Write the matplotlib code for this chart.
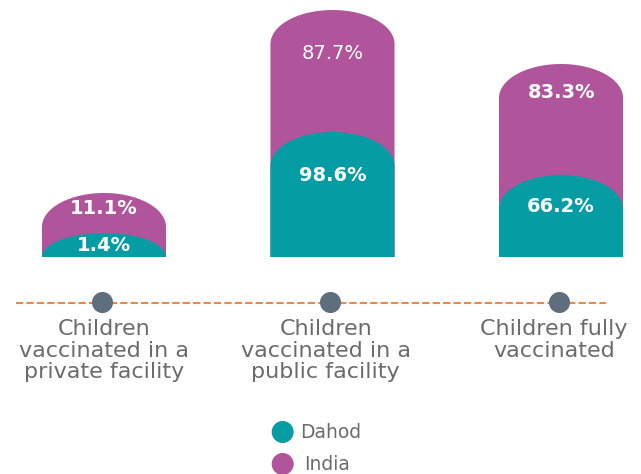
import matplotlib
matplotlib.use("Agg")
import matplotlib.pyplot as plt
from matplotlib.path import Path
from matplotlib.patches import PathPatch
import numpy as np

# ---- data ----
categories = ["Children\nvaccinated in a\nprivate facility",
              "Children\nvaccinated in a\npublic facility",
              "Children fully\nvaccinated"]
series_names = ["Dahod", "India"]
dahod_values = [1.4, 98.6, 66.2]
india_values = [11.1, 87.7, 83.3]
# drawn (infographic, not to scale) bar heights
dahod_heights = [24, 125, 82]
india_heights = [64, 247, 193]

# ---- styles ----
TEAL = "#069ca3"
PURPLE = "#b0559b"
GREY_TXT = "#6b6b6b"
DOT = "#5f6e7c"
ORANGE = "#e8894a"

fig = plt.figure(figsize=(6.41, 4.74), dpi=100)
ax = fig.add_axes([0, 0, 1, 1])
ax.set_xlim(-0.455, 2.350)
ax.set_ylim(-217, 257)
ax.axis("off")

bar_w = 0.543
dome = 34


def dome_bar(x, h, color, z):
    dh = min(dome, h)
    a = bar_w / 2
    t = np.linspace(0, np.pi, 60)
    xs = [x - a, x - a]
    ys = [0, h - dh]
    xs += list(x - a * np.cos(t))
    ys += list(h - dh + dh * np.sin(t))
    xs += [x + a, x - a]
    ys += [0, 0]
    verts = list(zip(xs, ys))
    codes = [Path.MOVETO] + [Path.LINETO] * (len(verts) - 2) + [Path.CLOSEPOLY]
    ax.add_patch(PathPatch(Path(verts, codes), facecolor=color,
                           edgecolor="none", zorder=z))


xpos = np.arange(len(categories))
india_off = [15, 43, 28]
dahod_off = [12, 43, 31]
india_weight = ["bold", "normal", "bold"]
for i, x in enumerate(xpos):
    dome_bar(x, india_heights[i], PURPLE, 1)
    dome_bar(x, dahod_heights[i], TEAL, 2)
    ax.text(x, india_heights[i] - india_off[i], f"{india_values[i]}%",
            ha="center", va="center", color="white", fontsize=14,
            fontweight=india_weight[i], zorder=3)
    ax.text(x, dahod_heights[i] - dahod_off[i], f"{dahod_values[i]}%",
            ha="center", va="center", color="white", fontsize=14,
            fontweight="bold", zorder=3)

# dashed timeline with dots
ax.plot([-0.385, 2.195], [-46, -46], color=ORANGE, lw=1.5,
        dashes=(3.5, 1.5), zorder=1)
ax.scatter(xpos - 0.01, [-45] * 3, s=200, color=DOT, zorder=2)

for i, x in enumerate(xpos):
    ax.text(x - 0.03 * (i > 0), -62, categories[i], ha="center", va="top",
            color=GREY_TXT, fontsize=16, linespacing=1.1)

# legend
ax.scatter([0.782, 0.782], [-175, -207], s=220,
           color=[TEAL, PURPLE], zorder=2)
ax.text(0.86, -175, series_names[0], ha="left", va="center",
        color=GREY_TXT, fontsize=13.5)
ax.text(0.875, -207, series_names[1], ha="left", va="center",
        color=GREY_TXT, fontsize=13.5)

fig.savefig("out.png", dpi=100)
